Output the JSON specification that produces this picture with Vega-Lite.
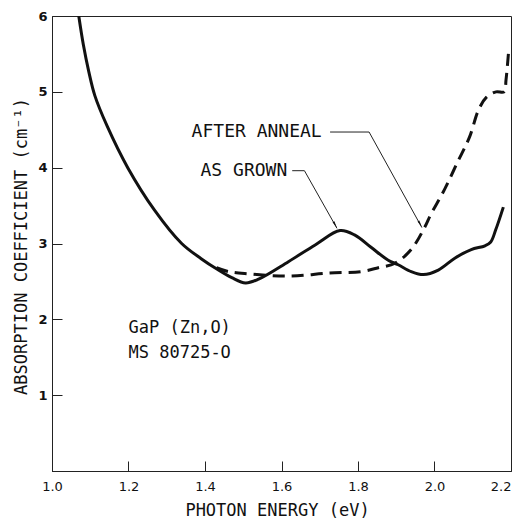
{
  "$schema": "https://vega.github.io/schema/vega-lite/v6.json",
  "width": 459,
  "height": 455,
  "autosize": "none",
  "padding": {"left": 52, "top": 16, "right": 9, "bottom": 50},
  "background": "white",
  "config": {
    "view": {"stroke": "#222", "strokeWidth": 1},
    "font": "DejaVu Sans",
    "axis": {"grid": false, "domainColor": "#222", "tickColor": "#222", "labelColor": "#111", "titleColor": "#111", "labelFont": "DejaVu Sans", "titleFont": "DejaVu Sans Mono", "titleFontWeight": "normal"}
  },
  "datasets": {
    "asgrown": [
      {"x": 1.070, "y": 6.00}, {"x": 1.082, "y": 5.62}, {"x": 1.096, "y": 5.27}, {"x": 1.112, "y": 4.95},
      {"x": 1.144, "y": 4.55}, {"x": 1.198, "y": 4.00}, {"x": 1.268, "y": 3.44}, {"x": 1.339, "y": 3.00},
      {"x": 1.390, "y": 2.80}, {"x": 1.432, "y": 2.66}, {"x": 1.470, "y": 2.55}, {"x": 1.506, "y": 2.48},
      {"x": 1.540, "y": 2.53}, {"x": 1.618, "y": 2.76}, {"x": 1.688, "y": 2.98}, {"x": 1.753, "y": 3.17},
      {"x": 1.792, "y": 3.11}, {"x": 1.834, "y": 2.95}, {"x": 1.879, "y": 2.78}, {"x": 1.905, "y": 2.72},
      {"x": 1.939, "y": 2.63}, {"x": 1.971, "y": 2.59}, {"x": 2.010, "y": 2.65}, {"x": 2.054, "y": 2.81},
      {"x": 2.096, "y": 2.92}, {"x": 2.132, "y": 2.97}, {"x": 2.147, "y": 3.02}, {"x": 2.160, "y": 3.18},
      {"x": 2.180, "y": 3.48}
    ],
    "annealed": [
      {"x": 1.430, "y": 2.68}, {"x": 1.461, "y": 2.63}, {"x": 1.514, "y": 2.60}, {"x": 1.618, "y": 2.57},
      {"x": 1.723, "y": 2.61}, {"x": 1.809, "y": 2.63}, {"x": 1.853, "y": 2.68}, {"x": 1.897, "y": 2.74},
      {"x": 1.939, "y": 2.92}, {"x": 1.975, "y": 3.22}, {"x": 1.990, "y": 3.38}, {"x": 2.026, "y": 3.71},
      {"x": 2.059, "y": 4.06}, {"x": 2.092, "y": 4.41}, {"x": 2.115, "y": 4.76}, {"x": 2.136, "y": 4.93},
      {"x": 2.161, "y": 5.00}, {"x": 2.182, "y": 5.00}, {"x": 2.187, "y": 5.16}, {"x": 2.194, "y": 5.55}
    ],
    "leaders": [
      {"arrow": "anneal", "step": 1, "x": 1.727, "y": 4.47},
      {"arrow": "anneal", "step": 2, "x": 1.829, "y": 4.47},
      {"arrow": "anneal", "step": 3, "x": 1.967, "y": 3.21},
      {"arrow": "grown", "step": 1, "x": 1.628, "y": 3.96},
      {"arrow": "grown", "step": 2, "x": 1.660, "y": 3.96},
      {"arrow": "grown", "step": 3, "x": 1.745, "y": 3.20}
    ],
    "heads": [
      {"x": 1.961, "y": 3.27},
      {"x": 1.739, "y": 3.26}
    ],
    "labels": [
      {"label": "AFTER  ANNEAL", "x": 1.705, "y": 4.47, "anchor": "right"},
      {"label": "AS GROWN", "x": 1.615, "y": 3.96, "anchor": "right"},
      {"label": "GaP (Zn,O)", "x": 1.20, "y": 1.89, "anchor": "left"},
      {"label": "MS 80725-O", "x": 1.20, "y": 1.56, "anchor": "left"}
    ]
  },
  "layer": [
    {
      "data": {"name": "asgrown"},
      "mark": {"type": "line", "interpolate": "catmull-rom", "color": "#111", "strokeWidth": 3, "clip": true},
      "encoding": {
        "x": {"field": "x", "type": "quantitative", "scale": {"domain": [1.0, 2.2], "nice": false, "zero": false},
          "axis": {"values": [1.0, 1.2, 1.4, 1.6, 1.8, 2.0, 2.2], "format": ".1f", "tickSize": -10, "labelFontSize": 13, "labelPadding": 19,
            "labelAlign": {"condition": {"test": "datum.value > 2.19", "value": "right"}, "value": "center"},
            "title": "PHOTON  ENERGY  (eV)", "titleFontSize": 17, "titleX": 225, "titleY": 39, "titleBaseline": "middle", "titleAlign": "center", "labelFlush": false}},
        "y": {"field": "y", "type": "quantitative", "scale": {"domain": [0, 6], "nice": false},
          "axis": {"values": [0, 1, 2, 3, 4, 5, 6], "format": "d", "labelExpr": "datum.value == 0 ? '' : datum.label", "tickSize": -10, "labelFontSize": 13, "labelFontWeight": "bold", "labelPadding": 15,
            "title": "ABSORPTION  COEFFICIENT  (cm⁻¹)", "titleFontSize": 17, "titleX": -31, "titleY": 230, "titleAngle": 270, "titleBaseline": "middle", "titleAlign": "center", "labelFlush": false}}
      }
    },
    {
      "data": {"name": "annealed"},
      "mark": {"type": "line", "interpolate": "catmull-rom", "color": "#111", "strokeWidth": 3, "strokeDash": [12, 7], "clip": true},
      "encoding": {
        "x": {"field": "x", "type": "quantitative"},
        "y": {"field": "y", "type": "quantitative"}
      }
    },
    {
      "data": {"name": "leaders"},
      "mark": {"type": "line", "color": "#222", "strokeWidth": 1},
      "encoding": {
        "x": {"field": "x", "type": "quantitative"},
        "y": {"field": "y", "type": "quantitative"},
        "detail": {"field": "arrow"},
        "order": {"field": "step"}
      }
    },
    {
      "data": {"name": "heads"},
      "mark": {"type": "point", "shape": "wedge", "filled": true, "color": "#111", "opacity": 1, "size": 70, "angle": 151},
      "encoding": {
        "x": {"field": "x", "type": "quantitative"},
        "y": {"field": "y", "type": "quantitative"}
      }
    },
    {
      "data": {"name": "labels"},
      "transform": [{"filter": "datum.anchor == 'right'"}],
      "mark": {"type": "text", "align": "right", "baseline": "middle", "fontSize": 18, "font": "DejaVu Sans Mono", "color": "#111"},
      "encoding": {
        "x": {"field": "x", "type": "quantitative"},
        "y": {"field": "y", "type": "quantitative"},
        "text": {"field": "label"}
      }
    },
    {
      "data": {"name": "labels"},
      "transform": [{"filter": "datum.anchor == 'left'"}],
      "mark": {"type": "text", "align": "left", "baseline": "middle", "fontSize": 17, "font": "DejaVu Sans Mono", "color": "#111"},
      "encoding": {
        "x": {"field": "x", "type": "quantitative"},
        "y": {"field": "y", "type": "quantitative"},
        "text": {"field": "label"}
      }
    }
  ]
}
